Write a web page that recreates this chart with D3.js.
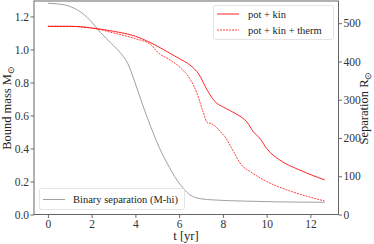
<!DOCTYPE html>
<html><head><meta charset="utf-8">
<script src="https://cdn.jsdelivr.net/npm/d3@7"></script>
<style>body{margin:0;background:#fff}svg{display:block}</style>
</head><body><svg id="c" width="374" height="244" font-family="'Liberation Serif', serif"></svg>
<script>
const tPotKin = [0,1,2,3,4,5,5.6,6,6.5,6.9,7.3,7.6,8.1,8.6,9.1,9.4,9.7,10,10.6,11.5,12.65];
const mPotKin = [1.14,1.14,1.13,1.11,1.08,1.02,0.975,0.945,0.905,0.85,0.75,0.69,0.645,0.61,0.56,0.50,0.46,0.40,0.33,0.27,0.21];
const tTherm = [0,1,2,3,4,4.7,5.0,5.6,6.05,6.5,6.8,7.1,7.3,7.45,7.65,7.9,8.1,8.45,8.85,9.25,10.0,10.9,11.85,12.65];
const mTherm = [1.14,1.14,1.13,1.10,1.065,1.03,0.985,0.935,0.89,0.82,0.74,0.62,0.555,0.552,0.535,0.50,0.47,0.39,0.30,0.26,0.20,0.15,0.11,0.082];
const tSep = [0,0.75,1.2,1.6,2.0,2.4,2.9,3.35,3.65,3.95,4.25,4.55,4.8,5.1,5.45,5.9,6.2,6.5,7.0,7.6,9,10.5,12.65];
const rSep = [552,548,539,525,503,476,447,420,395,350,300,252,215,174,134,90,68,51,41,38,35,33,32];
const xTicks = [0,2,4,6,8,10,12];
const yLeftTicks = [0,0.2,0.4,0.6,0.8,1.0,1.2];
const yRightTicks = [0,100,200,300,400,500];
const legendTop = ["pot + kin","pot + kin + therm"];
const legendBottom = ["Binary separation (M-hi)"];

const FONT = "'Liberation Serif', serif";
const svg = d3.select("#c");
const L=34,R=338.5,T=1,B=214.5;
const x = d3.scaleLinear().domain([-0.635,13.285]).range([L,R]);
const yL = d3.scaleLinear().domain([0,1.2935]).range([B,T]);
const yR = d3.scaleLinear().domain([0,558]).range([B,T]);
const red="#ff0000";

function styleAxis(g){
  g.attr("font-family",FONT);
  g.select(".domain").remove();
  g.selectAll(".tick line").attr("stroke","#444").attr("stroke-width",0.8);
  g.selectAll(".tick text").attr("font-family",FONT).style("font-size","11.5px").attr("fill","#333");
}
const fmt1 = d3.format(".1f");
svg.append("g").attr("transform",`translate(0,${B})`).call(d3.axisBottom(x).tickValues(xTicks).tickSize(3.5).tickPadding(1.5)).call(styleAxis);
svg.append("g").attr("transform",`translate(${L},0)`).call(d3.axisLeft(yL).tickValues(yLeftTicks).tickFormat(fmt1).tickSize(3.5).tickPadding(1.5)).call(styleAxis);
svg.append("g").attr("transform",`translate(${R},0)`).call(d3.axisRight(yR).tickValues(yRightTicks).tickSize(3.5).tickPadding(1.5)).call(styleAxis);

const lineL = d3.line().x(d=>x(d[0])).y(d=>yL(d[1])).curve(d3.curveMonotoneX);
const lineR = d3.line().x(d=>x(d[0])).y(d=>yR(d[1])).curve(d3.curveMonotoneX);

svg.append("path").attr("d",lineR(d3.zip(tSep,rSep))).attr("fill","none").attr("stroke","#a0a0a0").attr("stroke-width",1);
svg.append("path").attr("d",lineL(d3.zip(tTherm,mTherm))).attr("fill","none").attr("stroke",red).attr("stroke-opacity",0.75).attr("stroke-width",1).attr("stroke-dasharray","2,1");
svg.append("path").attr("d",lineL(d3.zip(tPotKin,mPotKin))).attr("fill","none").attr("stroke",red).attr("stroke-opacity",0.85).attr("stroke-width",1);

svg.append("rect").attr("x",L).attr("y",T).attr("width",R-L).attr("height",B-T).attr("fill","none").attr("stroke","#555").attr("stroke-width",0.9);

// top-right legend
const lg = svg.append("g");
lg.append("rect").attr("x",213.5).attr("y",5.5).attr("width",120).attr("height",34).attr("rx",2).attr("fill","#fff").attr("fill-opacity",0.8).attr("stroke","#ddd").attr("stroke-width",0.8);
[[14,null],[30,"2,1"]].forEach((v,i)=>{
  const ln = lg.append("line").attr("x1",217).attr("x2",239).attr("y1",v[0]).attr("y2",v[0]).attr("stroke",red).attr("stroke-opacity",i?0.75:0.85).attr("stroke-width",1);
  if(v[1]) ln.attr("stroke-dasharray",v[1]);
  lg.append("text").attr("x",248).attr("y",v[0]+3.5).attr("font-family",FONT).attr("fill","#222").style("font-size","10.5px").text(legendTop[i]);
});
// bottom-left legend
const lb = svg.append("g");
lb.append("rect").attr("x",39.5).attr("y",188.5).attr("width",145).attr("height",21).attr("rx",2).attr("fill","#fff").attr("fill-opacity",0.8).attr("stroke","#ddd").attr("stroke-width",0.8);
lb.append("line").attr("x1",43).attr("x2",65).attr("y1",199.5).attr("y2",199.5).attr("stroke","#a0a0a0").attr("stroke-width",1);
lb.append("text").attr("x",73).attr("y",203).attr("font-family",FONT).attr("fill","#222").style("font-size","10.5px").text(legendBottom[0]);

// axis labels
svg.append("text").attr("x",186).attr("y",240).attr("text-anchor","middle").attr("font-family",FONT).attr("fill","#222").style("font-size","12.5px").text("t [yr]");
const yl = svg.append("text").attr("transform","translate(11,108) rotate(-90)").attr("text-anchor","middle").attr("font-family",FONT).attr("fill","#222").style("font-size","12.5px");
yl.append("tspan").text("Bound mass M");
yl.append("tspan").attr("dy",3).style("font-size","9px").text("⊙");
const yr = svg.append("text").attr("transform","translate(368,108) rotate(-90)").attr("text-anchor","middle").attr("font-family",FONT).attr("fill","#222").style("font-size","12.5px");
yr.append("tspan").text("Separation R");
yr.append("tspan").attr("dy",3).style("font-size","9px").text("⊙");
</script></body></html>
